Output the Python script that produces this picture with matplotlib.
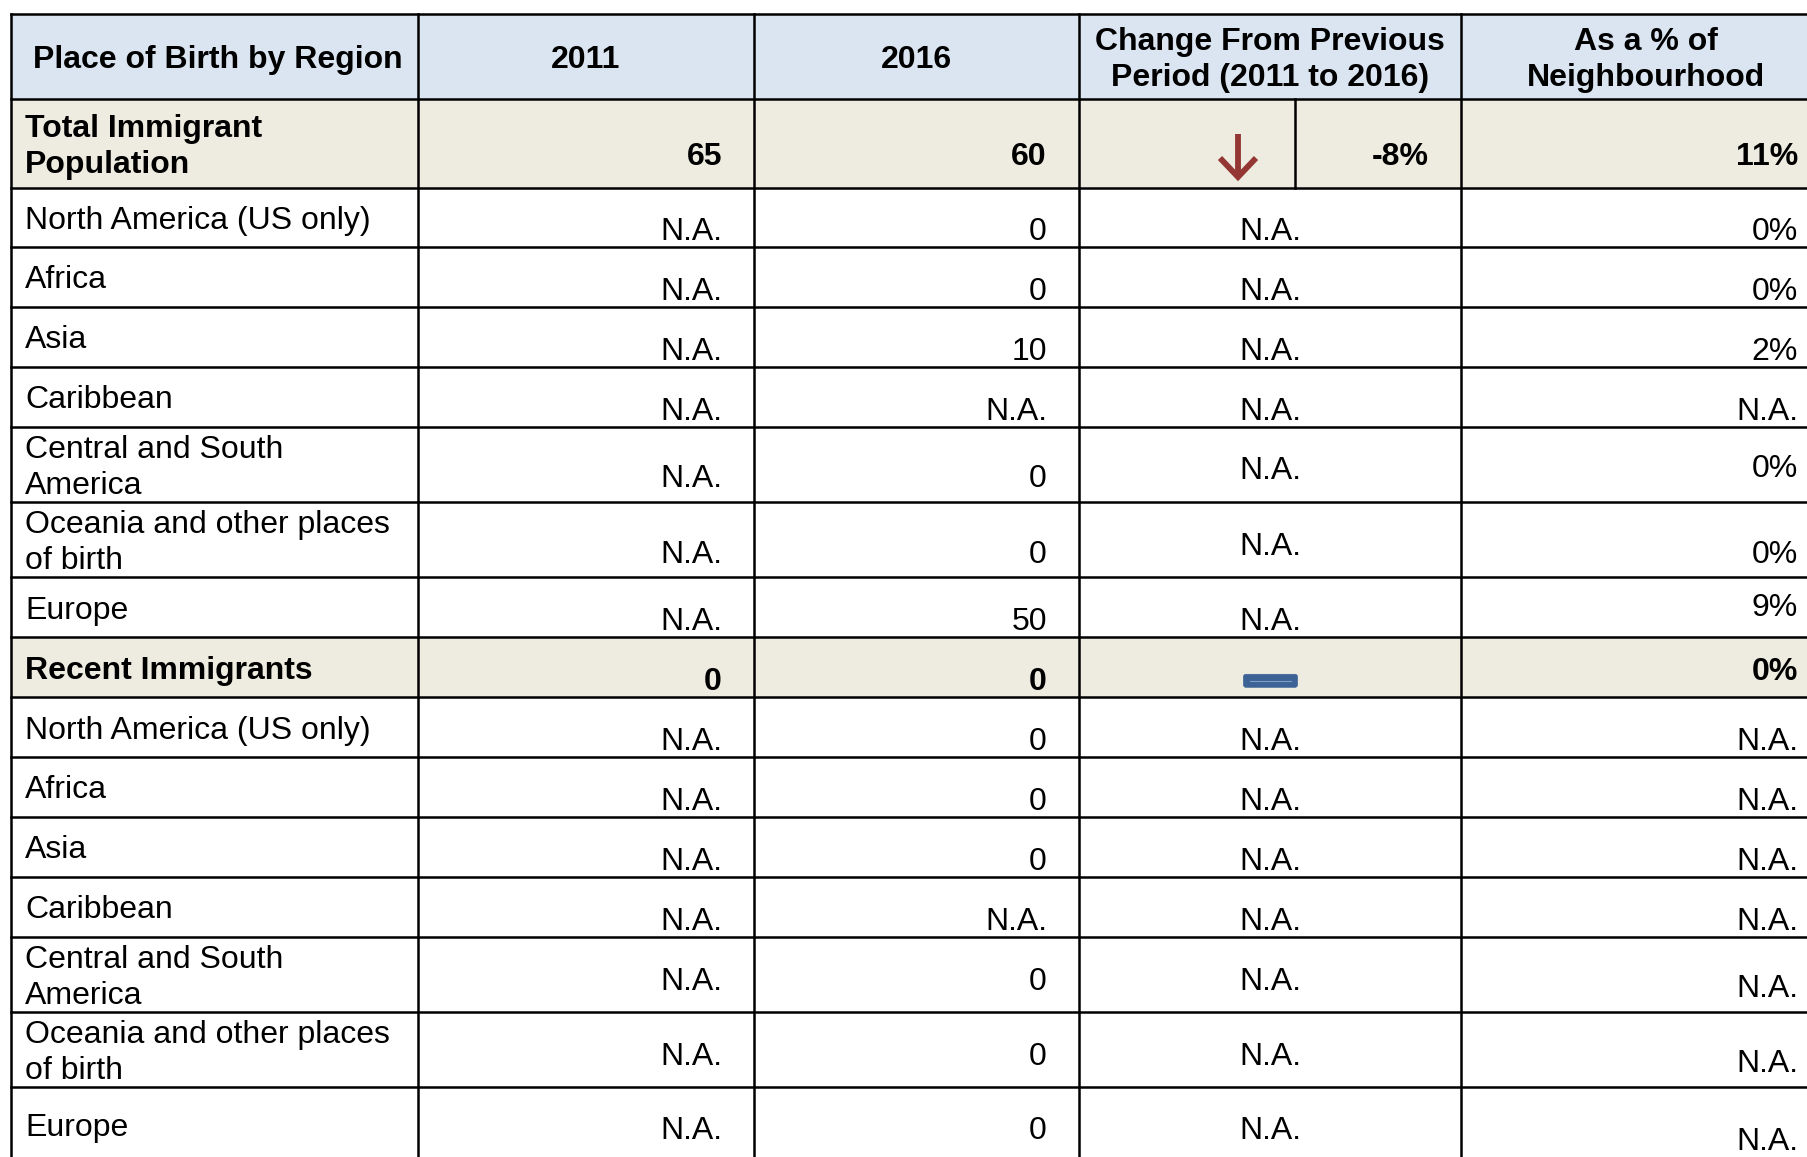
#!/usr/bin/env python3
"""Place of birth by region table, drawn as a grid of cells."""

import matplotlib

matplotlib.use("Agg")
import matplotlib.pyplot as plt
from matplotlib.patches import FancyBboxPatch, Rectangle

# ---- data ----
HEADERS = ["Place of Birth by Region", "2011", "2016",
           "Change From Previous\nPeriod (2011 to 2016)", "As a % of\nNeighbourhood"]
REGIONS = ["Total Immigrant\nPopulation", "North America (US only)", "Africa", "Asia",
           "Caribbean", "Central and South\nAmerica", "Oceania and other places\nof birth",
           "Europe",
           "Recent Immigrants", "North America (US only)", "Africa", "Asia",
           "Caribbean", "Central and South\nAmerica", "Oceania and other places\nof birth",
           "Europe"]
VALUES_2011 = ["65", "N.A.", "N.A.", "N.A.", "N.A.", "N.A.", "N.A.", "N.A.",
               "0", "N.A.", "N.A.", "N.A.", "N.A.", "N.A.", "N.A.", "N.A."]
VALUES_2016 = ["60", "0", "0", "10", "N.A.", "0", "0", "50",
               "0", "0", "0", "0", "N.A.", "0", "0", "0"]
CHANGE = ["-8%", "N.A.", "N.A.", "N.A.", "N.A.", "N.A.", "N.A.", "N.A.",
          "", "N.A.", "N.A.", "N.A.", "N.A.", "N.A.", "N.A.", "N.A."]
TREND = ["down", None, None, None, None, None, None, None,
         "flat", None, None, None, None, None, None, None]
PCT_NEIGHBOURHOOD = ["11%", "0%", "0%", "2%", "N.A.", "0%", "0%", "9%",
                     "0%", "N.A.", "N.A.", "N.A.", "N.A.", "N.A.", "N.A.", "N.A."]
SUMMARY_ROWS = {0, 8}

# ---- layout (pixels) ----
W, H = 1807, 1157
COL_EDGES = [11, 418, 754, 1079, 1461, 1830]
SUB_SPLIT = 1295
HEADER_TOP = 14
HEADER_H = 85
ROW_H = [89, 59, 60, 60, 60, 75, 75, 60, 60, 60, 60, 60, 60, 75, 75, 75]
# vertical position of the values (fraction of the row height): 2011/2016, change, %
VALUE_POS = [(0.61, 0.61, 0.61), (0.69, 0.69, 0.69), (0.69, 0.69, 0.69), (0.69, 0.69, 0.69),
             (0.69, 0.69, 0.69), (0.65, 0.54, 0.51), (0.66, 0.55, 0.66), (0.69, 0.69, 0.46),
             (0.69, 0.69, 0.52), (0.69, 0.69, 0.69), (0.69, 0.69, 0.69), (0.69, 0.69, 0.69),
             (0.69, 0.69, 0.69), (0.55, 0.55, 0.65), (0.55, 0.55, 0.65), (0.54, 0.54, 0.69)]

HEADER_FILL = "#dbe5f1"
SUMMARY_FILL = "#eeece1"
ARROW_RED = "#943634"
DASH_BLUE = "#3d6396"
FS = 23
PAD = 32
LINE_GAP = 36
CAP_MID = 11.5  # baseline sits this far below the visual middle of capitals

plt.rcParams["font.family"] = ["Liberation Sans", "DejaVu Sans"]

fig = plt.figure(figsize=(W / 100, H / 100), dpi=100)
ax = fig.add_axes([0, 0, 1, 1])
ax.set_xlim(0, W)
ax.set_ylim(H, 0)
ax.axis("off")


def put(x, ymid, text, ha, bold=False):
    lines = text.split("\n")
    first = ymid - LINE_GAP * (len(lines) - 1) / 2
    for i, line in enumerate(lines):
        ax.text(x, first + i * LINE_GAP + CAP_MID, line, ha=ha, va="baseline",
                fontsize=FS, fontweight="bold" if bold else "normal", color="black")


left, right = COL_EDGES[0], COL_EDGES[-1]
row_tops = [HEADER_TOP + HEADER_H]
for h in ROW_H:
    row_tops.append(row_tops[-1] + h)

# fills
ax.add_patch(Rectangle((left, HEADER_TOP), right - left, HEADER_H, color=HEADER_FILL, lw=0))
for r in SUMMARY_ROWS:
    ax.add_patch(Rectangle((left, row_tops[r]), right - left, ROW_H[r], color=SUMMARY_FILL, lw=0))

# header text
hmid = HEADER_TOP + HEADER_H / 2
for c, label in enumerate(HEADERS):
    cx = (COL_EDGES[c] + COL_EDGES[c + 1]) / 2
    if c == 0:
        put(left + 22, hmid, label, "left", bold=True)
    else:
        put(cx, hmid, label, "center", bold=True)

# body
for r, region in enumerate(REGIONS):
    top, h = row_tops[r], ROW_H[r]
    bold = r in SUMMARY_ROWS
    put(COL_EDGES[0] + 14, top + h * 0.5, region, "left", bold=bold)
    p_num, p_chg, p_pct = VALUE_POS[r]
    put(COL_EDGES[2] - PAD, top + h * p_num, VALUES_2011[r], "right", bold=bold)
    put(COL_EDGES[3] - PAD, top + h * p_num, VALUES_2016[r], "right", bold=bold)
    put(COL_EDGES[5] - PAD, top + h * p_pct, PCT_NEIGHBOURHOOD[r], "right", bold=bold)
    if TREND[r] == "down":
        put(COL_EDGES[4] - PAD, top + h * p_chg, CHANGE[r], "right", bold=bold)
        ax.plot([SUB_SPLIT, SUB_SPLIT], [top, top + h], color="black", lw=1.8)
        ax_x = SUB_SPLIT - 57
        y0, y1 = top + 35, top + 78
        ax.plot([ax_x, ax_x], [y0, y1 - 3], color=ARROW_RED, lw=4.2, solid_capstyle="butt")
        ax.plot([ax_x - 18, ax_x, ax_x + 18], [y1 - 19, y1, y1 - 19], color=ARROW_RED,
                lw=4.2, solid_joinstyle="miter", solid_capstyle="butt")
    elif TREND[r] == "flat":
        cx = (COL_EDGES[3] + COL_EDGES[4]) / 2
        cy = top + h * 0.73
        ax.add_patch(FancyBboxPatch((cx - 24, cy - 4), 49, 8, boxstyle="round,pad=2.5",
                                    fc=DASH_BLUE, ec=DASH_BLUE, lw=0.5))
        ax.plot([cx - 20, cx + 21], [cy, cy], color="#7f9cc4", lw=0.8)
    else:
        put((COL_EDGES[3] + COL_EDGES[4]) / 2, top + h * p_chg, CHANGE[r], "center", bold=bold)

# grid lines
bottom = row_tops[-1]
for y in [HEADER_TOP] + row_tops:
    ax.plot([left, right], [y, y], color="black", lw=1.8)
for x in COL_EDGES:
    ax.plot([x, x], [HEADER_TOP, bottom], color="black", lw=1.8)

fig.savefig("out.png", dpi=100, facecolor="white")
